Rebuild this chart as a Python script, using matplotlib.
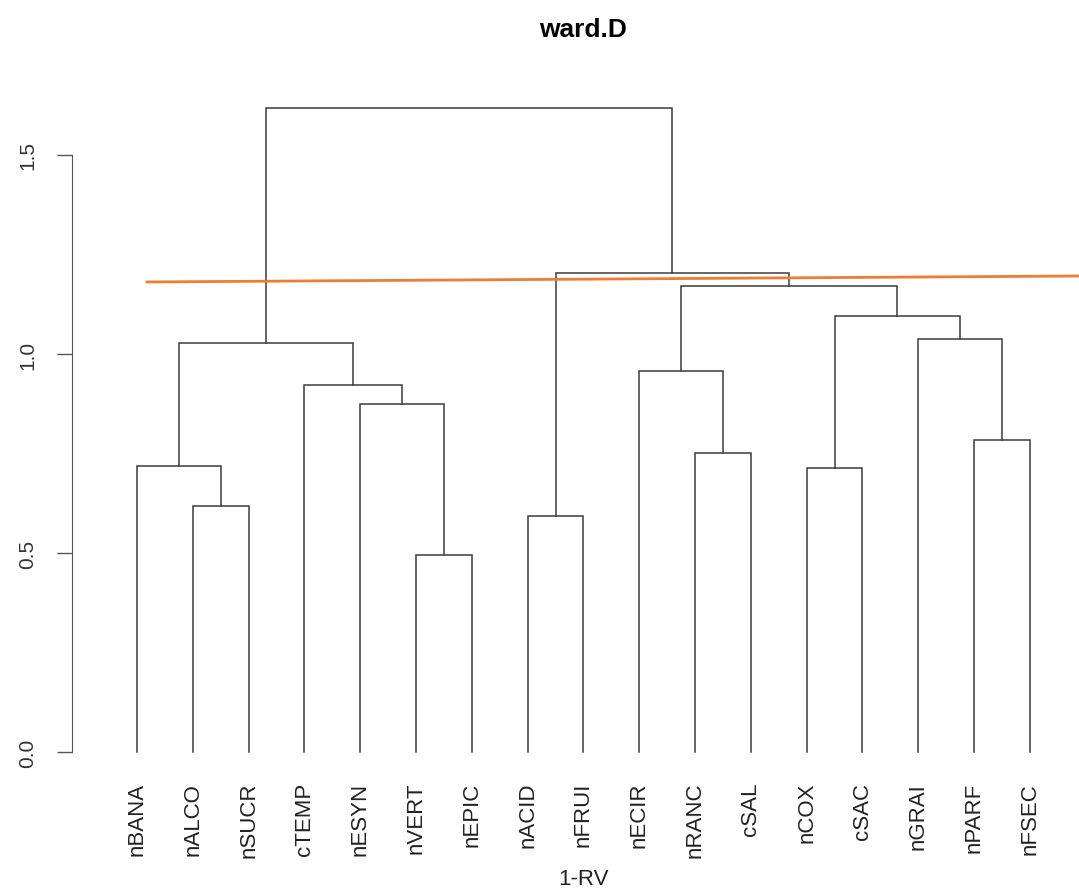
import matplotlib.pyplot as plt

plt.rcParams["font.family"] = ["Liberation Sans", "DejaVu Sans"]

# leaf order as drawn
leaves = ["nBANA", "nALCO", "nSUCR", "cTEMP", "nESYN", "nVERT", "nEPIC",
          "nACID", "nFRUI", "nECIR", "nRANC", "cSAL", "nCOX", "cSAC",
          "nGRAI", "nPARF", "nFSEC"]

# merge steps: a leaf name or the number of an earlier merge (1-based)
merge_a = ["nVERT", "nACID", "nALCO", "nCOX", "nBANA", "nRANC", "nPARF",
           "nESYN", "cTEMP", "nECIR", 5, "nGRAI", 4, 10, 2, 11]
merge_b = ["nEPIC", "nFRUI", "nSUCR", "cSAC", 3, "cSAL", "nFSEC",
           1, 8, 6, 9, 7, 12, 13, 14, 15]
merge_h = [0.495, 0.594, 0.618, 0.714, 0.718, 0.751, 0.784,
           0.874, 0.922, 0.957, 1.028, 1.038, 1.095, 1.172, 1.204, 1.618]

# hand-drawn cut line (slightly tilted in the original)
cut_x = [1.18, 17.88]
cut_y = [1.181, 1.196]

yticks = [0.0, 0.5, 1.0, 1.5]

line_col = "#3c3c3c"

fig = plt.figure(figsize=(10.79, 8.95), dpi=100)
ax = fig.add_axes([72 / 1079, 142 / 895, 1 - 72 / 1079, (753 - 60) / 895])
ax.set_xlim(-0.165, 17.88)
ax.set_ylim(0, (753 - 60) / 398)


def node_pos(ref, nodes):
    # returns (x, height) of a leaf or an earlier merge
    if isinstance(ref, str):
        return leaves.index(ref) + 1, 0.0
    return nodes[ref - 1]


nodes = []
for a, b, h in zip(merge_a, merge_b, merge_h):
    xa, ha = node_pos(a, nodes)
    xb, hb = node_pos(b, nodes)
    ax.plot([xa, xa, xb, xb], [ha, h, h, hb], color=line_col, lw=1.1,
            solid_joinstyle="miter", clip_on=False)
    nodes.append(((xa + xb) / 2, h))

for i, name in enumerate(leaves):
    ax.text(i + 1, -0.075, name, rotation=90, ha="center", va="top",
            fontsize=16, color="#222222")

ax.plot(cut_x, cut_y, color="#ee7d31", lw=2.0, clip_on=False)

for side in ["top", "right", "bottom"]:
    ax.spines[side].set_visible(False)
ax.spines["left"].set_bounds(0, 1.5)
ax.spines["left"].set_color("#555555")
ax.set_xticks([])
ax.set_yticks(yticks)
ax.set_yticklabels([f"{t:.1f}" for t in yticks], rotation=90, va="center",
                   fontsize=15, color="#333333")
ax.tick_params(axis="y", length=10.8, width=1, color="#555555", pad=14)

fig.text(583 / 1079, 1 - 880 / 895, "1-RV", ha="center", va="center",
         fontsize=16, color="#222222")
fig.text(583 / 1079, 1 - 30 / 895, "ward.D", ha="center", va="center",
         fontsize=19, fontweight="bold")

fig.savefig("out.png", dpi=100)
